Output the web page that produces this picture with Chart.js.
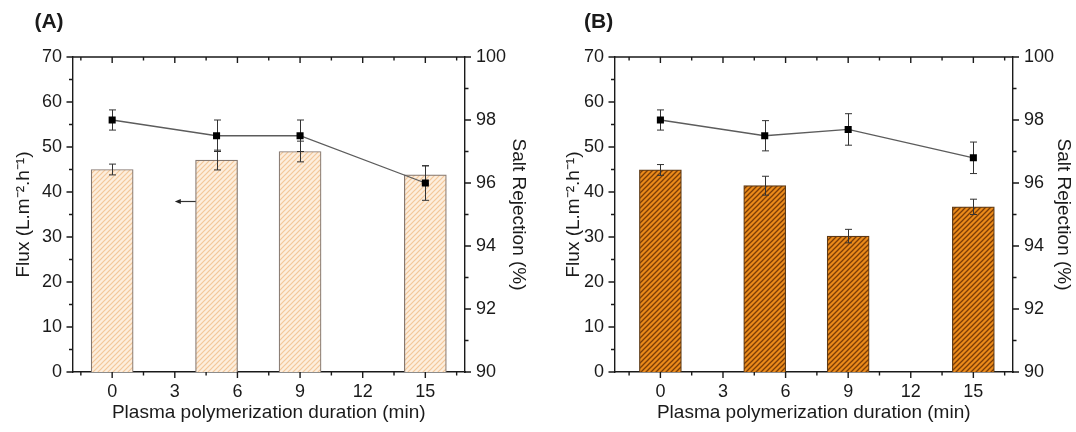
<!DOCTYPE html>
<html><head><meta charset="utf-8">
<script src="https://cdn.jsdelivr.net/npm/chart.js@4.4.1/dist/chart.umd.min.js"></script>
<style>
html,body{margin:0;padding:0;background:#fff;}
#wrap{position:relative;width:1076px;height:432px;overflow:hidden;}
.p{position:absolute;top:0;width:538px;height:432px;}
</style></head><body>
<div id="wrap">
<div class="p" style="left:0"><canvas id="cA" width="538" height="432"></canvas></div>
<div class="p" style="left:538px"><canvas id="cB" width="538" height="432"></canvas></div>
</div>
<script>
// ---- data ----
const durations = [0, 5, 9, 15];
const fluxA = [45.0, 47.1, 49.0, 43.8];
const fluxAErr = [1.2, 2.2, 2.3, 2.0];
const rejA = [98.0, 97.5, 97.5, 96.0];
const rejAErr = [0.32, 0.5, 0.5, 0.55];
const fluxB = [44.9, 41.4, 30.2, 36.7];
const fluxBErr = [1.2, 2.1, 1.5, 1.7];
const rejB = [98.0, 97.5, 97.7, 96.8];
const rejBErr = [0.32, 0.48, 0.5, 0.5];
const xTickLabels = [0, 3, 6, 9, 12, 15];
const fluxTickLabels = [0, 10, 20, 30, 40, 50, 60, 70];
const rejTickLabels = [90, 92, 94, 96, 98, 100];
const arrowA = [4, 3, 38]; // from x, to x, at flux value

const F = '"Liberation Sans", Arial, Helvetica, sans-serif';
const INK = '#1a1a1a';

function hatch(bg, fg, period, lw) {
  const c = document.createElement('canvas');
  c.width = c.height = period;
  const g = c.getContext('2d');
  g.fillStyle = bg; g.fillRect(0, 0, period, period);
  g.strokeStyle = fg; g.lineWidth = lw;
  g.beginPath();
  g.moveTo(-1, period + 1); g.lineTo(period + 1, -1);
  g.moveTo(-2, 2); g.lineTo(2, -2);
  g.moveTo(period - 2, period + 2); g.lineTo(period + 2, period - 2);
  g.stroke();
  return g.createPattern(c, 'repeat');
}

function drawErr(chart, index) {
  const ds = chart.data.datasets[index];
  if (!ds.err) return;
  const meta = chart.getDatasetMeta(index);
  const ys = chart.scales[ds.yAxisID];
  const ctx = chart.ctx;
  ctx.save();
  ctx.strokeStyle = '#333'; ctx.lineWidth = 1;
  meta.data.forEach((el, i) => {
    const x = Math.round(el.x) + 0.5;
    const v = ds.data[i].y, e = ds.err[i];
    const yt = ys.getPixelForValue(v + e), yb = ys.getPixelForValue(v - e);
    ctx.beginPath();
    ctx.moveTo(x, yt); ctx.lineTo(x, yb);
    ctx.moveTo(x - 3.5, yt); ctx.lineTo(x + 3.5, yt);
    ctx.moveTo(x - 3.5, yb); ctx.lineTo(x + 3.5, yb);
    ctx.stroke();
  });
  ctx.restore();
}

function deco(opts) {
  return {
    id: 'deco',
    beforeDatasetDraw(chart, args) {
      if (chart.data.datasets[args.index].type === 'line') drawErr(chart, args.index);
    },
    afterDatasetDraw(chart, args) {
      if (chart.data.datasets[args.index].type === 'bar') drawErr(chart, args.index);
    },
    afterDraw(chart) {
      const ctx = chart.ctx, a = chart.chartArea;
      const sx = chart.scales.x, sy = chart.scales.y, sr = chart.scales.y1;
      ctx.save();
      ctx.strokeStyle = INK; ctx.lineWidth = 1.4;
      ctx.beginPath();
      ctx.moveTo(a.left, a.top); ctx.lineTo(a.right, a.top);
      for (let v = Math.ceil(sx.min / 1.5) * 1.5; v <= sx.max; v += 1.5) {
        const major = Math.abs(v % 3) < 1e-6;
        const len = major ? 6 : 3.5;
        const px = sx.getPixelForValue(v);
        ctx.moveTo(px, a.bottom); ctx.lineTo(px, a.bottom + len);
        ctx.moveTo(px, a.top); ctx.lineTo(px, a.top + len);
      }
      for (let v = sy.min; v <= sy.max; v += 5) {
        const len = v % 10 === 0 ? 6 : 3.5;
        const py = sy.getPixelForValue(v);
        ctx.moveTo(a.left - len, py); ctx.lineTo(a.left, py);
      }
      for (let v = sr.min; v <= sr.max; v += 1) {
        const len = v % 2 === 0 ? 6 : 3.5;
        const py = sr.getPixelForValue(v);
        ctx.moveTo(a.right, py); ctx.lineTo(a.right + len, py);
      }
      ctx.stroke();
      ctx.fillStyle = INK;
      ctx.font = 'bold 21px ' + F;
      ctx.textBaseline = 'middle'; ctx.textAlign = 'left';
      ctx.fillText(opts.label, opts.labelX, 22.5);
      if (opts.arrow) {
        const x0 = sx.getPixelForValue(opts.arrow[0]);
        const x1 = sx.getPixelForValue(opts.arrow[1]);
        const y = Math.round(sy.getPixelForValue(opts.arrow[2])) + 0.5;
        ctx.lineWidth = 1.2; ctx.strokeStyle = '#333'; ctx.fillStyle = '#222';
        ctx.beginPath(); ctx.moveTo(x0, y); ctx.lineTo(x1 + 4, y); ctx.stroke();
        ctx.beginPath(); ctx.moveTo(x1, y); ctx.lineTo(x1 + 6, y - 2.5); ctx.lineTo(x1 + 6, y + 2.5); ctx.closePath(); ctx.fill();
      }
      ctx.restore();
    }
  };
}

function makeChart(id, o) {
  const tickFont = {size: 18, family: F};
  const titleFont = {size: 19, family: F};
  return new Chart(document.getElementById(id), {
    type: 'bar',
    data: {
      datasets: [
        {
          type: 'line', yAxisID: 'y1', order: 0,
          data: durations.map((d, i) => ({x: d, y: o.rej[i]})),
          err: o.rejErr,
          borderColor: '#5c5c5c', borderWidth: 1.3, tension: 0,
          pointStyle: 'rect', pointRadius: 5, pointBackgroundColor: '#000',
          pointBorderColor: '#000', pointBorderWidth: 0
        },
        {
          type: 'bar', yAxisID: 'y', order: 1,
          data: durations.map((d, i) => ({x: d, y: o.flux[i]})),
          err: o.fluxErr,
          backgroundColor: o.pattern, borderColor: o.barBorder, borderWidth: 1.2,
          barThickness: 42, borderSkipped: 'bottom'
        }
      ]
    },
    options: {
      responsive: false, animation: false, devicePixelRatio: 1,
      layout: {padding: {top: 57, left: 0, right: 0, bottom: 0}},
      plugins: {legend: {display: false}, tooltip: {enabled: false}},
      scales: {
        x: {
          type: 'linear', position: 'bottom', min: o.xMin, max: 16.9, offset: false,
          afterBuildTicks: s => { s.ticks = xTickLabels.map(v => ({value: v})); },
          afterFit: s => { s.height = 60; },
          grid: {display: false, drawTicks: false, offset: false},
          border: {display: true, color: INK, width: 1.4},
          ticks: {padding: 9.5, font: tickFont, color: INK, maxRotation: 0, autoSkip: false},
          title: {display: true, text: 'Plasma polymerization duration (min)', font: titleFont, color: INK, padding: {top: 0, bottom: 8}}
        },
        y: {
          type: 'linear', position: 'left', min: 0, max: 70,
          afterBuildTicks: s => { s.ticks = fluxTickLabels.map(v => ({value: v})); },
          afterFit: s => { s.width = o.leftW; },
          grid: {display: false, drawTicks: false},
          border: {display: true, color: INK, width: 1.4},
          ticks: {padding: 10.5, font: tickFont, color: INK},
          title: {display: true, text: 'Flux (L.m⁻².h⁻¹)', font: titleFont, color: INK, padding: {top: o.leftTitlePad, bottom: 0}}
        },
        y1: {
          type: 'linear', position: 'right', min: 90, max: 100,
          afterBuildTicks: s => { s.ticks = rejTickLabels.map(v => ({value: v})); },
          afterFit: s => { s.width = o.rightW; },
          grid: {display: false, drawTicks: false},
          border: {display: true, color: INK, width: 1.4},
          ticks: {padding: 11, font: tickFont, color: INK},
          title: {display: true, text: 'Salt Rejection (%)', font: titleFont, color: INK, padding: {top: o.rightTitlePad, bottom: 0}}
        }
      }
    },
    plugins: [deco(o)]
  });
}

makeChart('cA', {
  flux: fluxA, fluxErr: fluxAErr, rej: rejA, rejErr: rejAErr,
  pattern: hatch('#fdeedd', '#f3c79a', 5, 1.2), barBorder: '#857870',
  xMin: -1.9, leftW: 72.5, rightW: 73, leftTitlePad: 12.6, rightTitlePad: 8.6,
  label: '(A)', labelX: 34.4, arrow: arrowA
});
makeChart('cB', {
  flux: fluxB, fluxErr: fluxBErr, rej: rejB, rejErr: rejBErr,
  pattern: hatch('#ea8a1a', '#7a3c06', 5, 1.3), barBorder: '#5e3a16',
  xMin: -2.2, leftW: 76.5, rightW: 63, leftTitlePad: 24.6, rightTitlePad: 1.6,
  label: '(B)', labelX: 46, arrow: null
});
</script>
</body></html>
